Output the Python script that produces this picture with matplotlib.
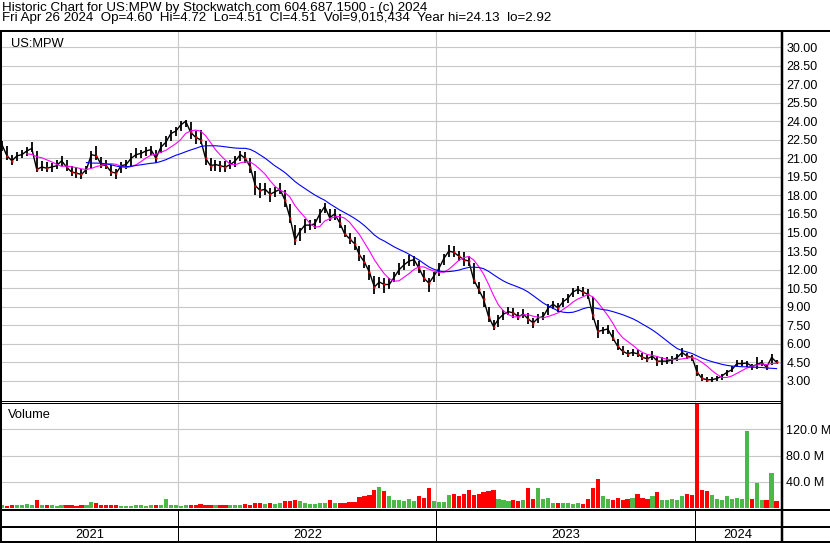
import numpy as np
import pandas as pd
import matplotlib
matplotlib.use("Agg")
import matplotlib.pyplot as plt
from matplotlib.lines import Line2D

plt.rcParams['font.family'] = ['Liberation Sans', 'DejaVu Sans']

# weekly bars, Fridays, Apr 30 2021 .. Apr 26 2024
dates = pd.date_range("2021-04-30", periods=157, freq="W-FRI")

closes = [22.1, 21.2, 20.8, 21.2, 21.3, 21.6, 21.8, 20.1, 20.3, 20.2,
          20.3, 20.4, 20.8, 20.3, 19.9, 19.8, 19.7, 20.1, 21.3, 21.2,
          20.5, 20.4, 19.9, 19.8, 20.4, 20.5, 21.0, 21.3, 21.4, 21.6,
          21.7, 21.0, 21.9, 22.3, 23.0, 23.2, 23.7, 24.0, 23.1, 22.7,
          22.5, 21.0, 20.4, 20.5, 20.4, 20.3, 20.5, 20.8, 21.3, 21.0,
          20.3, 18.8, 18.4, 18.5, 18.1, 18.3, 18.5, 17.6, 16.2, 14.4,
          15.1, 15.6, 15.6, 15.7, 16.5, 17.1, 16.2, 16.5, 15.8, 14.9,
          14.5, 14.1, 13.2, 12.6, 11.8, 10.6, 11.0, 10.8, 10.8, 11.4,
          12.0, 12.4, 12.7, 12.8, 12.1, 11.3, 10.9, 11.5, 12.1, 12.9,
          13.5, 13.4, 13.1, 12.8, 12.7, 11.2, 10.4, 9.6, 8.2, 7.4,
          8.0, 8.4, 8.6, 8.5, 8.2, 8.4, 8.0, 7.7, 8.1, 8.2,
          8.9, 9.2, 8.9, 9.4, 9.7, 10.2, 10.4, 10.2, 10.0, 8.3,
          7.0, 7.1, 7.2, 6.5, 5.8, 5.4, 5.2, 5.3, 5.2, 4.9,
          4.8, 5.0, 4.6, 4.6, 4.6, 4.7, 4.9, 5.3, 5.0, 4.9,
          3.7, 3.2, 3.1, 3.1, 3.2, 3.4, 3.7, 3.9, 4.4, 4.4,
          4.45, 4.2, 4.3, 4.5, 4.1, 4.9, 4.51]

highs = [22.4, 22.0, 21.3, 21.5, 21.7, 21.9, 22.3, 21.6, 20.8, 20.7,
         20.6, 20.9, 21.2, 20.9, 20.4, 20.2, 20.1, 20.4, 21.6, 22.0,
         21.1, 20.9, 20.5, 20.1, 20.7, 20.9, 21.4, 21.8, 21.7, 21.9,
         22.0, 21.7, 22.3, 22.8, 23.3, 23.5, 24.0, 24.13, 23.9, 23.2,
         23.3, 22.4, 21.0, 20.9, 20.8, 20.8, 20.9, 21.2, 21.6, 21.5,
         21.0, 20.0, 19.0, 19.0, 18.6, 18.7, 19.0, 18.4, 17.3, 15.6,
         15.4, 16.1, 16.0, 16.1, 16.9, 17.4, 16.9, 16.9, 16.5, 15.6,
         15.0, 14.6, 13.9, 13.2, 12.4, 11.5, 11.4, 11.3, 11.3, 11.8,
         12.5, 12.9, 13.2, 13.1, 12.7, 12.0, 11.3, 11.8, 12.5, 13.3,
         14.0, 13.9, 13.5, 13.4, 13.1, 12.5, 11.0, 10.3, 9.0, 7.9,
         8.3, 8.7, 9.0, 8.9, 8.6, 8.8, 8.5, 8.1, 8.4, 8.6,
         9.2, 9.5, 9.3, 9.7, 10.0, 10.5, 10.7, 10.6, 10.4, 9.8,
         7.9, 7.4, 7.5, 7.1, 6.4, 5.8, 5.5, 5.6, 5.5, 5.3,
         5.1, 5.4, 5.0, 4.9, 4.9, 5.0, 5.2, 5.7, 5.3, 5.1,
         4.3, 3.6, 3.3, 3.3, 3.4, 3.6, 3.9, 4.2, 4.7, 4.7,
         4.6, 4.4, 4.9, 4.7, 4.4, 5.2, 4.72]

lows = [21.6, 20.9, 20.5, 20.8, 21.0, 21.2, 21.5, 19.9, 20.0, 19.9,
        19.9, 20.1, 20.4, 20.0, 19.6, 19.4, 19.3, 19.7, 20.2, 20.9,
        20.2, 20.1, 19.6, 19.3, 19.8, 20.1, 20.4, 21.0, 21.0, 21.2,
        21.3, 20.6, 21.4, 21.9, 22.4, 22.8, 23.2, 23.5, 22.6, 22.2,
        22.2, 20.5, 20.0, 20.0, 19.9, 19.9, 20.1, 20.3, 20.8, 20.6,
        19.8, 18.0, 17.8, 18.0, 17.5, 17.9, 18.1, 17.1, 15.8, 14.0,
        14.3, 15.0, 15.2, 15.3, 15.8, 16.6, 15.9, 16.0, 15.4, 14.6,
        14.1, 13.6, 12.7, 12.1, 11.2, 10.0, 10.5, 10.1, 10.4, 11.0,
        11.6, 12.0, 12.3, 12.3, 11.7, 11.0, 10.2, 11.0, 11.5, 12.4,
        13.0, 13.0, 12.7, 12.3, 12.3, 10.8, 10.0, 9.0, 7.8, 7.1,
        7.4, 7.9, 8.3, 8.1, 7.9, 8.1, 7.6, 7.3, 7.7, 7.9,
        8.3, 8.8, 8.6, 9.0, 9.3, 9.8, 10.0, 9.9, 9.6, 7.9,
        6.5, 6.8, 6.8, 6.2, 5.5, 5.1, 4.9, 5.0, 4.9, 4.7,
        4.5, 4.7, 4.2, 4.3, 4.4, 4.4, 4.6, 4.9, 4.8, 4.6,
        3.4, 3.0, 2.92, 2.95, 3.0, 3.1, 3.4, 3.7, 4.1, 4.2,
        4.1, 3.9, 4.0, 4.2, 3.9, 4.3, 4.4]

# volume in millions of shares
volumes = [4, 3, 4, 5, 4, 6, 5, 12, 5, 4,
           4, 3, 4, 5, 4, 3, 4, 4, 9, 8,
           5, 4, 4, 4, 3, 3, 3, 4, 4, 3,
           5, 4, 4, 14, 4, 4, 3, 4, 4, 4,
           6, 5, 4, 4, 5, 4, 4, 5, 5, 6,
           5, 8, 7, 6, 7, 6, 8, 10, 11, 12,
           11, 7, 6, 6, 8, 7, 12, 8, 7, 8,
           9, 9, 17, 18, 20, 28, 32, 26, 18, 12,
           12, 11, 14, 10, 18, 16, 30, 11, 9, 9,
           20, 22, 18, 22, 28, 20, 22, 24, 26, 28,
           14, 12, 10, 12, 11, 12, 30, 13, 30, 14,
           15, 8, 7, 7, 7, 6, 7, 6, 14, 30,
           45, 18, 14, 12, 16, 12, 14, 16, 22, 16,
           13, 18, 24, 12, 12, 14, 12, 18, 22, 20,
           160, 28, 26, 20, 14, 12, 18, 14, 15, 14,
           117, 14, 38, 12, 12, 54, 11]

price_ticks = np.arange(3, 30.01, 1.5)
vol_ticks = [40, 80, 120]
years = [2021, 2022, 2023, 2024]

W, H = 830, 543
fig = plt.figure(figsize=(W / 100, H / 100), dpi=100)
fig.patch.set_facecolor("white")


def rect(x0, y0, x1, y1):
    return [x0 / W, 1 - y1 / H, (x1 - x0) / W, (y1 - y0) / H]


def line(xs, ys, lw=1.0, color="black"):
    fig.add_artist(Line2D([x / W for x in xs], [1 - y / H for y in ys],
                          transform=fig.transFigure, lw=lw * 0.72, color=color,
                          solid_capstyle="butt"))


x = np.arange(len(closes))
c = pd.Series(closes)
ma_fast = c.rolling(6).mean()
ma_slow = c.rolling(18).mean()
prev = c.shift(1).fillna(c.iloc[0])
up = (c >= prev).values

xmin, xmax = 0, 156.9
first_week = [np.where(dates.year == y)[0][0] for y in years[1:]]
bounds = [i - 0.5 for i in first_week]

# price panel
ax = fig.add_axes(rect(2, 32, 781, 400))
ax.vlines(x, lows, highs, color="black", lw=1.3)
ax.plot(x, closes, color="black", lw=1.0)
ax.plot(x[~up], c[~up], "s", ms=1.6, color="red", mec="none")
ax.plot(x, ma_fast, color="#ff00ff", lw=0.8)
ax.plot(x, ma_slow, color="#0000ff", lw=0.8)
ax.set_xlim(xmin, xmax)
ax.set_ylim(3 - 19 / 12.333, 30 + 15 / 12.333)
ax.set_yticks(price_ticks)
ax.set_yticklabels([f"{v:.2f}" for v in price_ticks])
ax.yaxis.tick_right()
ax.set_xticks(bounds)
ax.set_xticklabels([])
ax.tick_params(length=0, pad=3.8, labelsize=9, colors="black")
ax.grid(color="#c8c8c8", lw=0.8)
ax.set_axisbelow(True)
for s in ax.spines.values():
    s.set_visible(False)
ax.text(0.011, 0.985, "US:MPW", transform=ax.transAxes, fontsize=9.3,
        va="top", ha="left")

# volume panel
axv = fig.add_axes(rect(2, 402, 781, 508))
axv.bar(x, volumes, width=0.85, color=np.where(up, "#4cb848", "#ff0000"))
axv.set_xlim(xmin, xmax)
axv.set_ylim(0, 162)
axv.set_yticks(vol_ticks)
axv.set_yticklabels([f"{v:.1f} M" for v in vol_ticks])
axv.yaxis.tick_right()
axv.set_xticks(bounds)
axv.set_xticklabels([])
axv.tick_params(length=0, pad=3.8, labelsize=9, colors="black")
axv.grid(color="#c8c8c8", lw=0.8)
axv.set_axisbelow(True)
for s in axv.spines.values():
    s.set_visible(False)
axv.text(0.008, 0.93, "Volume", transform=axv.transAxes, fontsize=9.3,
         va="top", ha="left")

# header
fig.text(2 / W, 1 - 10.5 / H, "Historic Chart for US:MPW by Stockwatch.com 604.687.1500 - (c) 2024",
         fontsize=9.6, va="baseline", ha="left")
fig.text(2 / W, 1 - 21.5 / H,
         "Fri Apr 26 2024  Op=4.60  Hi=4.72  Lo=4.51  Cl=4.51  Vol=9,015,434  Year hi=24.13  lo=2.92",
         fontsize=9.6, va="baseline", ha="left")

# frame
line([0, W], [31, 31], lw=2)
line([0, 782], [400.5, 400.5], lw=1)
line([0, 782], [402.5, 402.5], lw=1)
line([0, W], [510, 510], lw=2)
line([0, W], [527, 527], lw=2)
line([0, W], [542, 542], lw=2)
line([1, 1], [31, H], lw=2)
line([782, 782], [31, H], lw=2.5)


def to_px(v):
    return 2 + (v - xmin) / (xmax - xmin) * 779


edges = [2] + [to_px(b) for b in bounds] + [782]
for b in bounds:
    line([to_px(b), to_px(b)], [510, H], lw=1)
for i, y in enumerate(years):
    mid = (edges[i] + edges[i + 1]) / 2
    fig.text(mid / W, 1 - 535 / H, str(y), fontsize=9.3, ha="center", va="center")

fig.savefig("out.png", dpi=100, facecolor="white")
